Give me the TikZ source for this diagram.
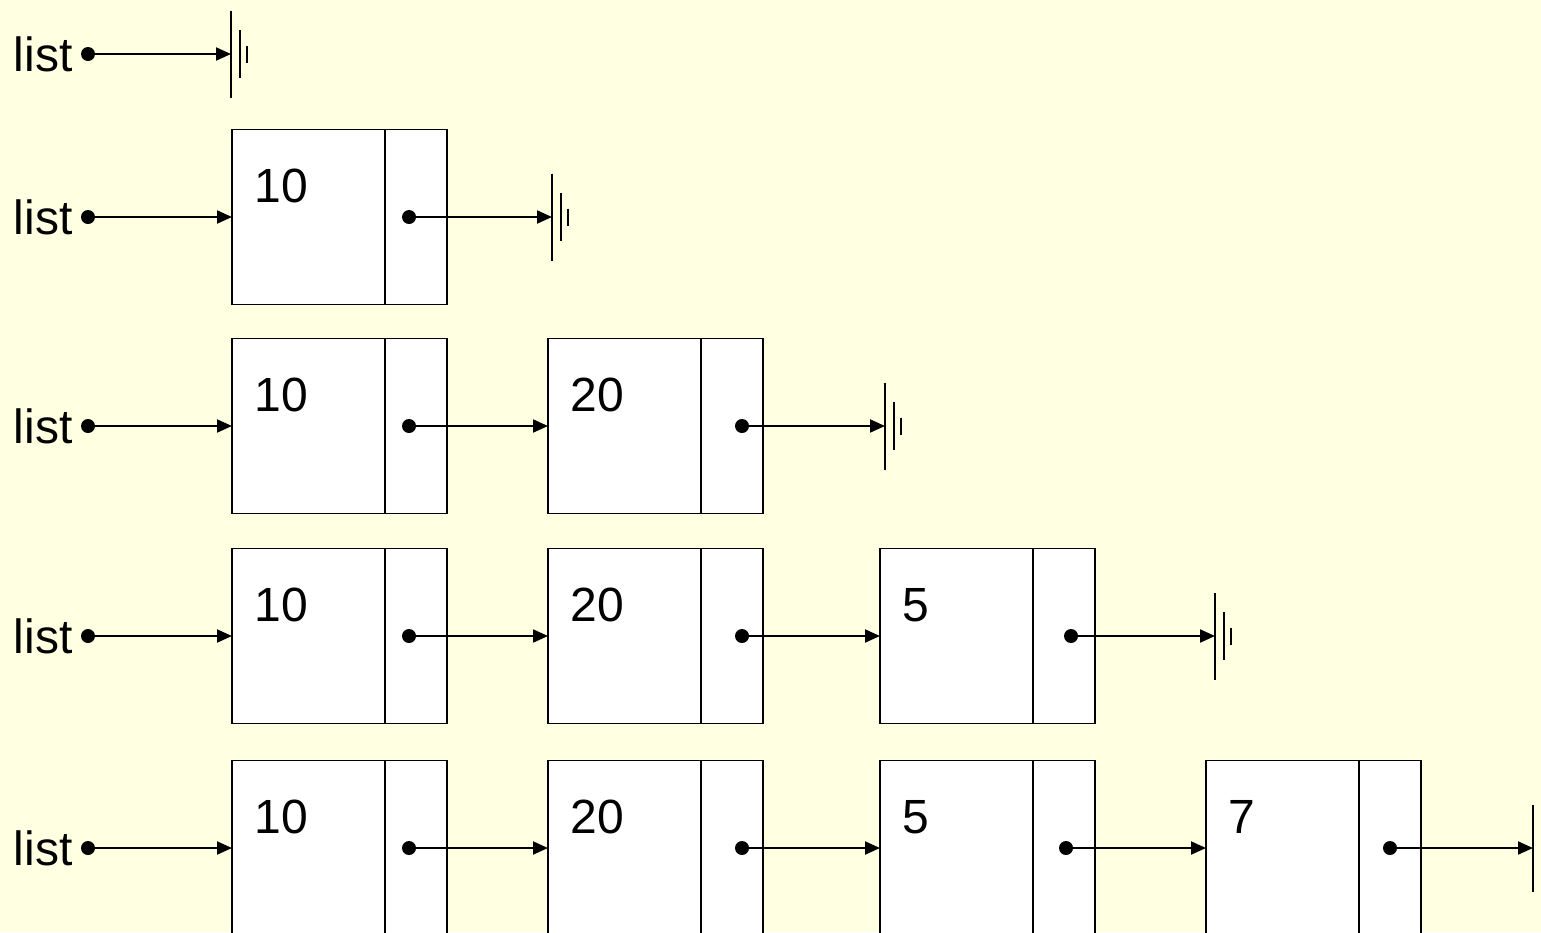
\documentclass[tikz,border=0pt]{standalone}
\usepackage{fontspec}
\setmainfont{Liberation Sans}
\usepackage{tikz}
\usetikzlibrary{arrows.meta, positioning}
\definecolor{memo}{RGB}{255,255,225}
\newcommand{\gnd}[1]{%
  \draw[line width=0.8pt] (#1) ++(0,-43.5) -- ++(0,87);
  \draw[line width=0.8pt] (#1) ++(9,-24) -- ++(0,48);
  \draw[line width=0.6pt] (#1) ++(16,-8.5) -- ++(0,17);}

\begin{document}
\begin{tikzpicture}[x=0.5pt, y=-0.5pt, font=\fontsize{24}{28}\selectfont,
    datacell/.style={draw, fill=white, line width=0.8pt, anchor=north west,
      minimum width=76.5pt, minimum height=87.5pt, inner sep=0pt, outer sep=0pt},
    ptrcell/.style={draw, fill=white, line width=0.8pt,
      minimum width=31pt, minimum height=87.5pt, inner sep=0pt, outer sep=0pt},
    dot/.style={circle, fill=black, inner sep=0pt, minimum size=7pt},
    link/.style={line width=1pt, -{Triangle[length=7.5pt,width=6.5pt]}},
    val/.style={anchor=base west, inner sep=0pt},
    lbl/.style={anchor=base east, inner sep=0pt}]

    \fill[memo] (0,0) rectangle (1541,932);
    \useasboundingbox (0,0) rectangle (1541,932);

    % empty list
    \node[lbl] (L1) at (73,71) {list};
    \node[dot] (h1) at (88,54) {};
    \coordinate (g1) at (231,54);
    \draw[link] (h1) -- (g1);
    \gnd{g1}

    % one node
    \node[lbl] (L2) at (73,234) {list};
    \node[dot] (h2) at (88,217) {};
    \node[datacell] (d21) at (232,129.5) {};
    \node[ptrcell, right=0pt of d21] (p21) {};
    \node[val] (v21) at (254,202) {10};
    \node[dot] (t21) at (409,217) {};
    \coordinate (g2) at (552,217);
    \draw[link] (h2) -- (d21.west);
    \draw[link] (t21) -- (g2);
    \gnd{g2}

    % two nodes
    \node[lbl] (L3) at (73,443) {list};
    \node[dot] (h3) at (88,426) {};
    \node[datacell] (d31) at (232,338.5) {};
    \node[ptrcell, right=0pt of d31] (p31) {};
    \node[val] (v31) at (254,411) {10};
    \node[dot] (t31) at (409,426) {};
    \node[datacell] (d32) at (548,338.5) {};
    \node[ptrcell, right=0pt of d32] (p32) {};
    \node[val] (v32) at (570,411) {20};
    \node[dot] (t32) at (742,426) {};
    \coordinate (g3) at (885,426);
    \draw[link] (h3) -- (d31.west);
    \draw[link] (t31) -- (d32.west);
    \draw[link] (t32) -- (g3);
    \gnd{g3}

    % three nodes
    \node[lbl] (L4) at (73,653) {list};
    \node[dot] (h4) at (88,636) {};
    \node[datacell] (d41) at (232,548.5) {};
    \node[ptrcell, right=0pt of d41] (p41) {};
    \node[val] (v41) at (254,621) {10};
    \node[dot] (t41) at (409,636) {};
    \node[datacell] (d42) at (548,548.5) {};
    \node[ptrcell, right=0pt of d42] (p42) {};
    \node[val] (v42) at (570,621) {20};
    \node[dot] (t42) at (742,636) {};
    \node[datacell] (d43) at (880,548.5) {};
    \node[ptrcell, right=0pt of d43] (p43) {};
    \node[val] (v43) at (902,621) {5};
    \node[dot] (t43) at (1071,636) {};
    \coordinate (g4) at (1215,636);
    \draw[link] (h4) -- (d41.west);
    \draw[link] (t41) -- (d42.west);
    \draw[link] (t42) -- (d43.west);
    \draw[link] (t43) -- (g4);
    \gnd{g4}

    % four nodes
    \node[lbl] (L5) at (73,865) {list};
    \node[dot] (h5) at (88,848) {};
    \node[datacell] (d51) at (232,760.5) {};
    \node[ptrcell, right=0pt of d51] (p51) {};
    \node[val] (v51) at (254,833) {10};
    \node[dot] (t51) at (409,848) {};
    \node[datacell] (d52) at (548,760.5) {};
    \node[ptrcell, right=0pt of d52] (p52) {};
    \node[val] (v52) at (570,833) {20};
    \node[dot] (t52) at (742,848) {};
    \node[datacell] (d53) at (880,760.5) {};
    \node[ptrcell, right=0pt of d53] (p53) {};
    \node[val] (v53) at (902,833) {5};
    \node[dot] (t53) at (1066,848) {};
    \node[datacell] (d54) at (1206,760.5) {};
    \node[ptrcell, right=0pt of d54] (p54) {};
    \node[val] (v54) at (1228,833) {7};
    \node[dot] (t54) at (1390,848) {};
    \coordinate (g5) at (1533,848);
    \draw[link] (h5) -- (d51.west);
    \draw[link] (t51) -- (d52.west);
    \draw[link] (t52) -- (d53.west);
    \draw[link] (t53) -- (d54.west);
    \draw[link] (t54) -- (g5);
    \gnd{g5}
\end{tikzpicture}
\end{document}
